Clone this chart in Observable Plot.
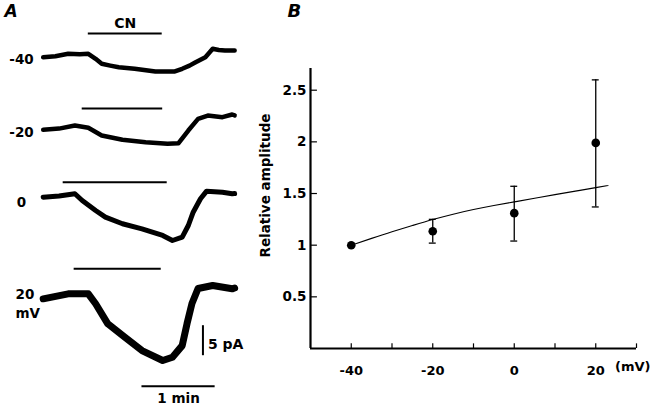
<!DOCTYPE html>
<html><head><meta charset="utf-8">
<script src="https://cdn.jsdelivr.net/npm/d3@7"></script>
<script src="https://cdn.jsdelivr.net/npm/@observablehq/plot@0.6"></script>
<style>
html,body{margin:0;padding:0;background:#fff;}
#wrap{position:relative;width:652px;height:413px;overflow:hidden;font-family:"DejaVu Sans",sans-serif;}
#wrap svg{position:absolute;top:0;}
</style></head><body><div id="wrap"></div>
<script>
// ---------- Panel A data: whole-cell current traces (time in s, current in pA) ----------
const traceLabels = ["-40", "-20", "0", "20"];
const traceBaseline = [-9.45, -21.55, -32.78, -49.72];   // resting level of each trace (pA)
const labelLevel = [-9.83, -22.0, -33.67, -49.0];         // level of each voltage label (pA)

const t40 = [0, 10, 20.5, 30, 37, 43, 48, 55, 62, 75, 92, 108, 114, 120, 125, 133, 139, 144, 149, 157];
const i40 = [0, 0.17, 0.57, 0.5, 0.57, -0.27, -1.1, -1.4, -1.67, -1.93, -2.38, -2.38, -1.93, -1.4, -0.83, 0, 1.4, 1.2, 1.12, 1.12];

const t20n = [0, 13, 26, 37, 48, 65, 84, 102, 111, 119, 127, 135, 147, 155, 157];
const i20n = [0, 0.2, 0.72, 0.33, -0.95, -1.67, -2.07, -2.33, -2.23, -0.12, 1.83, 2.38, 2.1, 2.55, 2.4];

const t0 = [0, 13, 26, 32, 43, 51, 65, 81, 98, 106, 114, 119, 123, 129, 134, 147, 155, 157];
const i0 = [0, 0.2, 0.57, -0.55, -2.22, -3.33, -4.43, -5.27, -6.38, -7.22, -6.67, -4.72, -2.5, -0.27, 1.0, 0.83, 0.57, 0.6];

const t20 = [0, 20.5, 37, 43, 53, 67, 81, 98, 106, 114, 118, 122, 127, 139, 155, 157];
const i20 = [0, 0.83, 0.83, -0.83, -4.17, -6.4, -8.62, -10.28, -9.73, -7.8, -4.1, -0.78, 1.72, 2.22, 1.67, 1.8];

const traceTimes = [t40, t20n, t0, t20];
const traceCurrents = [i40, i20n, i0, i20];

// CN application bars (s) and their levels (pA)
const cnStart = [37, 32, 16.4, 25.4];
const cnEnd = [97.6, 98, 101.7, 96.8];
const cnLevel = [-5.5, -18, -30.3, -44.7];

// scale bars
const timeBar = [81, 141];      // 1 min
const timeBarLevel = -64.3;
const currentBarTime = 131;
const currentBar = [-54.2, -59.2]; // 5 pA

// ---------- Panel B data ----------
const voltages = [-40, -20, 0, 20];
const amplitude = [1.00, 1.135, 1.31, 1.99];
const errLow = [null, 1.02, 1.04, 1.37];
const errHigh = [null, 1.25, 1.57, 2.60];
const fitV = [-40, -35, -30, -25, -20, -15, -10, -5, 0, 5, 10, 15, 20, 23];
const fitA = [1.00, 1.066, 1.130, 1.190, 1.248, 1.300, 1.345, 1.384, 1.419, 1.454, 1.489, 1.523, 1.557, 1.578];
const xTickValues = [-40, -20, 0, 20];
const xMinorTicks = [-30, -10, 10, 30];
const yTickValues = [0.5, 1, 1.5, 2, 2.5];

const FONT = "DejaVu Sans";

// ---------- Panel A ----------
const traceRows = traceTimes.map((ts, k) => ts.map((t, j) => ({t, i: traceBaseline[k] + traceCurrents[k][j], k})));
const traceWidths = [4.5, 4.5, 5, 7];
const cnRows = cnStart.map((s, k) => ({s, e: cnEnd[k], y: cnLevel[k]}));
const labelRows = traceLabels.map((l, k) => ({l, y: labelLevel[k]}));

const plotA = Plot.plot({
  width: 250, height: 413, margin: 0,
  x: {domain: [-35, 170], axis: null},
  y: {domain: [-413 / 6, 0], axis: null},
  style: {fontFamily: FONT, fontWeight: "bold", fontSize: "13.5px", color: "#000", background: "transparent", overflow: "visible"},
  marks: [
    ...traceRows.map((rows, k) => Plot.line(rows, {x: "t", y: "i", stroke: "#000", strokeWidth: traceWidths[k], strokeLinejoin: "round", strokeLinecap: "round"})),
    Plot.ruleY(cnRows, {y: "y", x1: "s", x2: "e", stroke: "#000", strokeWidth: 2}),
    Plot.text([cnRows[0]], {x: d => (d.s + d.e) / 2, y: "y", text: () => "CN", dy: -10, fontSize: "14px"}),
    Plot.text(labelRows.slice(0, 3), {frameAnchor: "left", y: "y", text: "l", dx: 21, textAnchor: "middle"}),
    Plot.text(labelRows.slice(3), {frameAnchor: "left", y: "y", text: "l", dx: 15, textAnchor: "start"}),
    Plot.text(labelRows.slice(3), {frameAnchor: "left", y: "y", text: () => "mV", dx: 15, dy: 19.5, textAnchor: "start"}),
    Plot.ruleY([timeBarLevel], {x1: timeBar[0], x2: timeBar[1], stroke: "#000", strokeWidth: 2}),
    Plot.text(["1 min"], {x: (timeBar[0] + timeBar[1]) / 2, y: timeBarLevel, dy: 12}),
    Plot.ruleX([currentBarTime], {y1: currentBar[0], y2: currentBar[1], stroke: "#000", strokeWidth: 2}),
    Plot.text(["5 pA"], {x: currentBarTime, y: (currentBar[0] + currentBar[1]) / 2, dx: 5, dy: 4, textAnchor: "start", fontSize: "14px"}),
    Plot.text(["A"], {frameAnchor: "top-left", dx: 4, dy: 11, lineAnchor: "middle", textAnchor: "start", fontSize: "17px", fontStyle: "italic"})
  ]
});
plotA.style.left = "0px";

// ---------- Panel B ----------
const pts = voltages.map((v, k) => ({v, a: amplitude[k], lo: errLow[k], hi: errHigh[k]}));
const bars = pts.filter(d => d.lo != null);
const fitRows = fitV.map((v, k) => ({v, a: fitA[k]}));
const capHalf = 0.85;   // mV
const yTickLen = 1.7;   // mV
const xTickLen = 0.045; // relative units

const plotB = Plot.plot({
  width: 402, height: 413,
  marginLeft: 60, marginRight: 16, marginTop: 68, marginBottom: 65,
  x: {domain: [-50, 30], axis: null},
  y: {domain: [0, 2.71], axis: null},
  style: {fontFamily: FONT, fontWeight: "bold", fontSize: "13px", color: "#000", background: "transparent", overflow: "visible"},
  marks: [
    Plot.ruleY([0], {stroke: "#000", strokeWidth: 2.2}),
    Plot.ruleX([-50], {stroke: "#000", strokeWidth: 2.2}),
    Plot.ruleX([...xTickValues, ...xMinorTicks], {x: d => d, y1: 0, y2: xTickLen, stroke: "#000", strokeWidth: 1.2}),
    Plot.ruleY(yTickValues, {y: d => d, x1: -50, x2: -50 + yTickLen, stroke: "#000", strokeWidth: 1.2}),
    Plot.axisX({ticks: xTickValues, tickSize: 0, tickPadding: 17, tickFormat: d => String(d), label: null}),
    Plot.axisY({ticks: yTickValues, tickSize: 0, tickPadding: 4, tickFormat: d => String(d), label: null, fontSize: "13.5px"}),
    Plot.line(fitRows, {x: "v", y: "a", curve: "natural", stroke: "#000", strokeWidth: 1.1}),
    Plot.ruleX(bars, {x: "v", y1: "lo", y2: "hi", stroke: "#000", strokeWidth: 1.3}),
    Plot.ruleY(bars, {y: "lo", x1: d => d.v - capHalf, x2: d => d.v + capHalf, stroke: "#000", strokeWidth: 1.3}),
    Plot.ruleY(bars, {y: "hi", x1: d => d.v - capHalf, x2: d => d.v + capHalf, stroke: "#000", strokeWidth: 1.3}),
    Plot.dot(pts, {x: "v", y: "a", r: 4.3, fill: "#000", stroke: null}),
    Plot.text(["Relative amplitude"], {frameAnchor: "left", textAnchor: "middle", lineAnchor: "middle", rotate: -90, dx: -45, dy: -23, fontSize: "13.5px"}),
    Plot.text(["(mV)"], {frameAnchor: "bottom-right", textAnchor: "end", dx: 14, dy: 22}),
    Plot.text(["B"], {frameAnchor: "top-left", dx: -23, dy: -57.5, lineAnchor: "middle", textAnchor: "start", fontSize: "18px", fontStyle: "italic"})
  ]
});
plotB.style.left = "250px";

const wrap = document.getElementById("wrap");
wrap.appendChild(plotA);
wrap.appendChild(plotB);
</script>
</body></html>
